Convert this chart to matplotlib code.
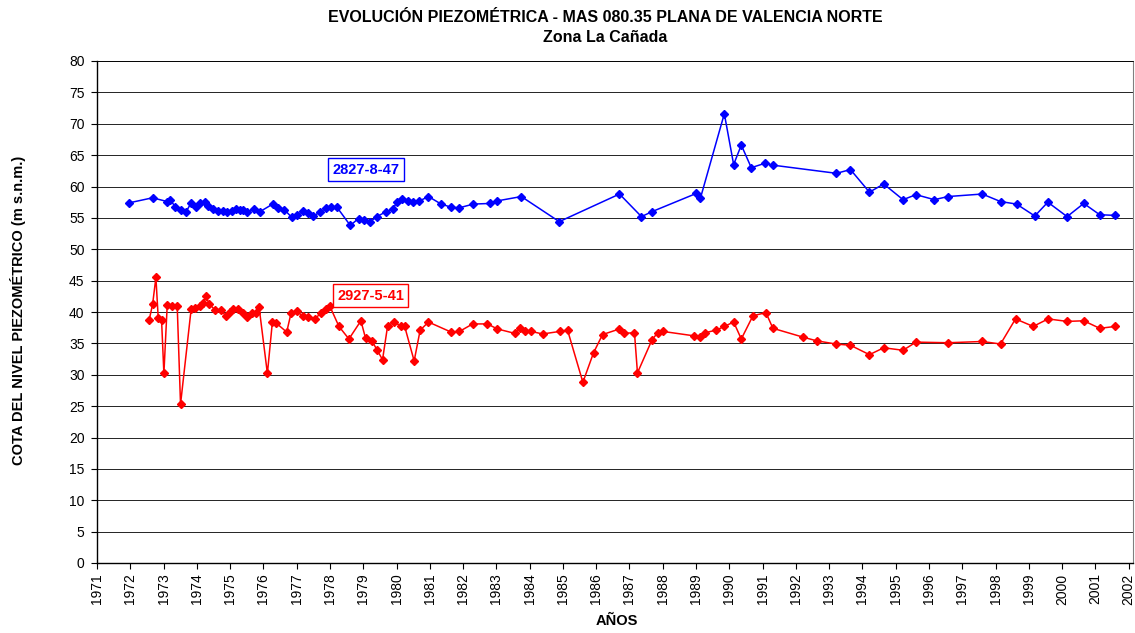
import numpy as np
from matplotlib import pyplot as plt

# decimal years and levels (m s.n.m.)
years_47 = [1971.97, 1972.67, 1973.11, 1973.19, 1973.35, 1973.52, 1973.68, 1973.83, 1973.96,
            1974.10, 1974.25, 1974.35, 1974.50, 1974.65, 1974.80, 1974.92, 1975.05, 1975.17,
            1975.30, 1975.40, 1975.52, 1975.73, 1975.90, 1976.28, 1976.43, 1976.63, 1976.85,
            1977.02, 1977.20, 1977.35, 1977.50, 1977.70, 1977.89, 1978.03, 1978.21, 1978.61,
            1978.86, 1979.03, 1979.21, 1979.41, 1979.69, 1979.89, 1980.01, 1980.16, 1980.33,
            1980.51, 1980.69, 1980.96, 1981.34, 1981.64, 1981.88, 1982.31, 1982.82, 1983.02,
            1983.75, 1984.89, 1986.70, 1987.36, 1987.68, 1989.01, 1989.13, 1989.85, 1990.13,
            1990.36, 1990.66, 1991.07, 1991.31, 1993.22, 1993.64, 1994.21, 1994.64, 1995.22,
            1995.61, 1996.16, 1996.57, 1997.60, 1998.15, 1998.63, 1999.18, 1999.57, 2000.15,
            2000.65, 2001.13, 2001.58]
level_47 = [57.4, 58.2, 57.6, 57.9, 56.8, 56.3, 56.0, 57.4, 56.8,
            57.3, 57.5, 56.9, 56.4, 56.1, 56.1, 56.0, 56.1, 56.4,
            56.3, 56.2, 55.9, 56.4, 56.0, 57.2, 56.6, 56.3, 55.1,
            55.5, 56.1, 55.8, 55.3, 55.9, 56.6, 56.8, 56.7, 53.8,
            54.9, 54.6, 54.4, 55.2, 56.0, 56.4, 57.5, 58.0, 57.7,
            57.5, 57.7, 58.4, 57.2, 56.7, 56.6, 57.2, 57.3, 57.7,
            58.4, 54.4, 58.8, 55.2, 56.0, 58.9, 58.1, 71.6, 63.5,
            66.6, 63.0, 63.7, 63.4, 62.1, 62.7, 59.1, 60.4, 57.9,
            58.7, 57.9, 58.4, 58.8, 57.6, 57.2, 55.3, 57.5, 55.2,
            57.3, 55.5, 55.4]

years_41 = [1972.57, 1972.67, 1972.77, 1972.84, 1972.94, 1973.01, 1973.11, 1973.24, 1973.41,
            1973.51, 1973.83, 1973.95, 1974.08, 1974.18, 1974.27, 1974.37, 1974.55, 1974.72,
            1974.87, 1975.00, 1975.10, 1975.25, 1975.38, 1975.50, 1975.67, 1975.78, 1975.87,
            1976.12, 1976.27, 1976.37, 1976.70, 1976.83, 1977.00, 1977.20, 1977.35, 1977.55,
            1977.72, 1977.89, 1977.99, 1978.27, 1978.57, 1978.93, 1979.07, 1979.26, 1979.41,
            1979.58, 1979.73, 1979.91, 1980.13, 1980.24, 1980.53, 1980.71, 1980.96, 1981.64,
            1981.89, 1982.29, 1982.73, 1983.03, 1983.55, 1983.72, 1983.87, 1984.05, 1984.39,
            1984.90, 1985.14, 1985.60, 1985.92, 1986.19, 1986.70, 1986.85, 1987.15, 1987.24,
            1987.68, 1987.85, 1988.01, 1988.94, 1989.12, 1989.27, 1989.60, 1989.85, 1990.13,
            1990.36, 1990.71, 1991.10, 1991.31, 1992.21, 1992.63, 1993.20, 1993.64, 1994.21,
            1994.64, 1995.22, 1995.61, 1996.57, 1997.60, 1998.15, 1998.60, 1999.13, 1999.58,
            2000.15, 2000.65, 2001.13, 2001.60]
level_41 = [38.8, 41.2, 45.5, 39.0, 38.7, 30.2, 41.1, 41.0, 41.0,
            25.3, 40.5, 40.6, 40.9, 41.4, 42.5, 41.3, 40.3, 40.3,
            39.4, 40.0, 40.4, 40.4, 39.8, 39.2, 39.8, 39.9, 40.8,
            30.2, 38.4, 38.3, 36.8, 39.8, 40.1, 39.3, 39.2, 38.9,
            39.8, 40.5, 41.0, 37.7, 35.7, 38.6, 35.8, 35.4, 34.0,
            32.4, 37.7, 38.4, 37.8, 37.8, 32.2, 37.1, 38.4, 36.8,
            36.9, 38.1, 38.1, 37.3, 36.6, 37.4, 37.0, 36.9, 36.5,
            36.9, 37.1, 28.8, 33.5, 36.4, 37.3, 36.6, 36.7, 30.3,
            35.6, 36.7, 36.9, 36.2, 36.0, 36.7, 37.1, 37.7, 38.4,
            35.7, 39.4, 39.9, 37.4, 36.0, 35.4, 34.9, 34.7, 33.2,
            34.3, 33.9, 35.2, 35.1, 35.3, 34.9, 38.9, 37.7, 38.9,
            38.5, 38.6, 37.4, 37.7]

x_ticks = list(range(1971, 2003))
y_ticks = list(range(0, 81, 5))

plt.rcParams['font.family'] = ['Liberation Sans', 'DejaVu Sans']

fig = plt.figure(figsize=(11.35, 6.33), dpi=100)
ax = fig.add_axes([97/1135, 70/633, 1036/1135, 502/633])

ax.plot(years_47, level_47, color='#0000FF', marker='D', markersize=4.5, linewidth=1.1, zorder=3)
ax.plot(years_41, level_41, color='#FF0000', marker='D', markersize=4.5, linewidth=1.1, zorder=3)

ax.set_xlim(1971, 2002.13)
ax.set_ylim(0, 80)
ax.set_xticks(x_ticks)
ax.set_xticklabels([str(y) for y in x_ticks], rotation=90, fontsize=10)
ax.set_yticks(y_ticks)
ax.set_yticklabels([str(v) for v in y_ticks], fontsize=10)
ax.tick_params(direction='out', length=4, width=0.8, color='black')
ax.tick_params(axis='y', pad=5)
ax.yaxis.grid(True, color='black', linewidth=0.6)
ax.set_axisbelow(True)
for side in ['left', 'bottom', 'top']:
    ax.spines[side].set_color('black')
    ax.spines[side].set_linewidth(1.0)
ax.spines['top'].set_linewidth(0.6)
ax.spines['right'].set_color('#808080')

ax.text(1979.09, 62.7, '2827-8-47', color='#0000FF', fontsize=10.5, fontweight='bold',
        ha='center', va='center',
        bbox=dict(boxstyle='square,pad=0.3', fc='white', ec='#0000FF', lw=1.0), zorder=4)
ax.text(1979.22, 42.6, '2927-5-41', color='#FF0000', fontsize=10.5, fontweight='bold',
        ha='center', va='center',
        bbox=dict(boxstyle='square,pad=0.3', fc='white', ec='#FF0000', lw=1.0), zorder=4)

fig.text(605/1135, 1 - 17/633, 'EVOLUCIÓN PIEZOMÉTRICA - MAS 080.35 PLANA DE VALENCIA NORTE',
         ha='center', va='center', fontsize=11.5, fontweight='bold')
fig.text(605/1135, 1 - 38/633, 'Zona La Cañada', ha='center', va='center',
         fontsize=11.5, fontweight='bold')
fig.text(617/1135, 1 - 621/633, 'AÑOS', ha='center', va='center', fontsize=10.5, fontweight='bold')
fig.text(18/1135, 1 - 310/633, 'COTA DEL NIVEL PIEZOMÉTRICO (m s.n.m.)', rotation=90,
         ha='center', va='center', fontsize=10.5, fontweight='bold')

fig.savefig('out.png', dpi=100)
